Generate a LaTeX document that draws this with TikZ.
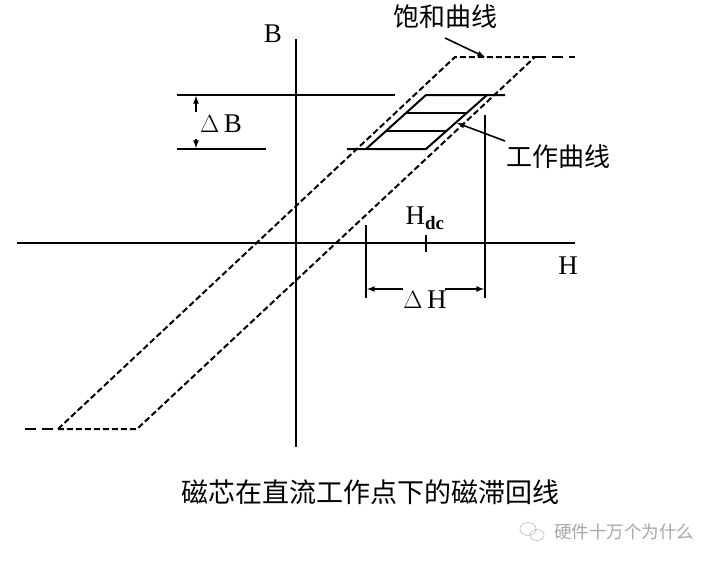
\documentclass[tikz,border=0pt]{standalone}
\usepackage{fontspec}
\setmainfont{Liberation Serif}
\newfontfamily\cjk{Noto Sans CJK SC}
\usetikzlibrary{positioning,calc,arrows}

\begin{document}
\begin{tikzpicture}[x=1pt,y=-1pt]
\tikzstyle{axis}=[line width=2pt];
\tikzstyle{loopl}=[line width=2pt,dash pattern=on 6pt off 3pt];
\tikzstyle{satl}=[line width=2pt,dash pattern=on 11pt off 6pt];
\tikzstyle{dim}=[line width=1.6pt,-latex];
\tikzstyle{lbl}=[anchor=center,inner sep=0pt,font=\fontsize{27}{27}\selectfont];
\tikzstyle{cn}=[anchor=center,inner sep=0pt,font=\cjk\fontsize{26}{26}\selectfont];

\useasboundingbox (0,0) rectangle (720,563);

\begin{scope}
        % axes
        \coordinate (hl) at (17,243);
        \coordinate (hr) at (575,243);
        \coordinate (bt) at (296,39);
        \coordinate (bb) at (296,447);
        \draw[axis] (hl) -- (hr);
        \draw[axis] (bt) -- (bb);
        \node[lbl] (blab) at (273,34) {B};
        \node[lbl] (hlab) at (568,266) {H};

        % saturation loop
        \coordinate (l1) at (58,429);
        \coordinate (l2) at (455,57);
        \coordinate (l3) at (535,57);
        \coordinate (l4) at (137,429);
        \coordinate (e1) at (25,429);
        \coordinate (e2) at (575,57);
        \draw[loopl] (l1) -- (l2) -- (l3) -- (l4) -- cycle;
        \draw[satl] (e1) -- (l1);
        \draw[satl] (l3) -- (e2);

        % working loop
        \coordinate (p1) at (366,149);
        \coordinate (p2) at (426,95);
        \coordinate (p3) at (487,95);
        \coordinate (p4) at (426,149);
        \coordinate (pt) at (505,95);
        \coordinate (pb) at (347,149);
        \draw[axis] (p1) -- (p2) -- (pt);
        \draw[axis] (pb) -- (p4) -- (p3);
        \foreach \t in {0.333,0.667}
          \draw[axis] ($(p1)!\t!(p2)$) -- ($(p4)!\t!(p3)$);

        % delta B
        \coordinate (b1l) at (177,95);
        \coordinate (b1r) at (395,95);
        \coordinate (b2l) at (177,149);
        \coordinate (b2r) at (266,149);
        \draw[axis] (b1l) -- (b1r);
        \draw[axis] (b2l) -- (b2r);
        \coordinate (db1) at (196,112);
        \coordinate (db2) at (196,139);
        \draw[dim] (db1) -- (196,96);
        \draw[dim] (db2) -- (196,148);
        \node[lbl] (dB) at (221,124) {$\Delta$\,B};

        % delta H
        \coordinate (v1t) at (366,225);
        \coordinate (v1b) at (366,298);
        \coordinate (v2t) at (485,115);
        \coordinate (v2b) at (485,298);
        \draw[axis] (v1t) -- (v1b);
        \draw[axis] (v2t) -- (v2b);
        \coordinate (dh1) at (403,289);
        \coordinate (dh2) at (445,289);
        \draw[dim] (dh1) -- (367,289);
        \draw[dim] (dh2) -- (484,289);
        \node[lbl] (dH) at (425,300) {$\Delta$\,H};

        % Hdc
        \coordinate (tk1) at (426,235);
        \coordinate (tk2) at (426,252);
        \draw[axis] (tk1) -- (tk2);
        \node[lbl] (hdc) at (425,218) {H\textsubscript{\textbf{dc}}};

        % labels with arrows
        \node[cn] (sat) at (445,17) {饱和曲线};
        \coordinate (sa) at (445,38);
        \coordinate (sb) at (485,57);
        \draw[dim] (sa) -- (sb);
        \node[cn] (work) at (558,157) {工作曲线};
        \coordinate (wa) at (505,141);
        \coordinate (wb) at (457,123);
        \draw[dim] (wa) -- (wb);

        % caption
        \node[cn,font=\cjk\fontsize{27}{27}\selectfont] (cap) at (370,492) {磁芯在直流工作点下的磁滞回线};

        % watermark
        \node[anchor=center,inner sep=0pt,text=gray!70,font=\cjk\fontsize{17.5}{17.5}\selectfont] (wm) at (624,532) {硬件十万个为什么};
        \draw[gray!45,line width=0.8pt] (528,529) ellipse (8pt and 6.5pt);
        \draw[gray!45,line width=0.8pt] (537,535) ellipse (7pt and 5.5pt);
\end{scope}

\end{tikzpicture}
\end{document}
